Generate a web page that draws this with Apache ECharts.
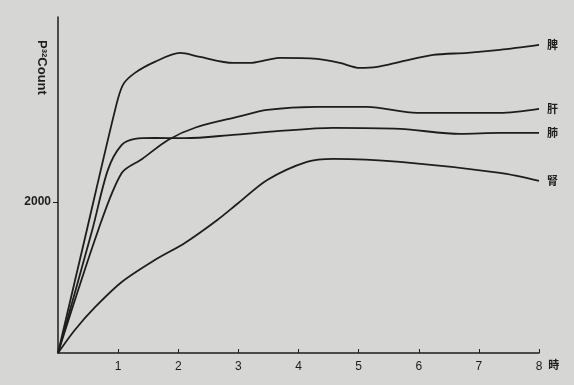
<!DOCTYPE html>
<html>
<head>
<meta charset="utf-8">
<script src="https://cdn.jsdelivr.net/npm/echarts@6/dist/echarts.min.js"></script>
<style>
  html, body { margin: 0; padding: 0; background: #d6d6d4; }
  #chart { width: 574px; height: 385px; }
</style>
</head>
<body>
<div id="chart"></div>
<script>
// hours (時) and P32 counts
const spleenT = [0, 0.48, 0.95, 1.08, 1.28, 1.61, 2.03, 2.36, 2.91, 3.19, 3.48, 3.69, 4.31, 4.69, 5.02, 5.31, 5.69, 6.24, 6.81, 7.35, 8.0];
const spleenV = [0, 1630, 3220, 3551, 3710, 3856, 3975, 3922, 3842, 3842, 3882, 3909, 3895, 3842, 3776, 3790, 3856, 3948, 3975, 4015, 4081];

const liverT = [0, 0.67, 1.06, 1.40, 1.83, 2.3, 3.0, 3.48, 4.31, 5.14, 5.97, 7.35, 8.0];
const liverV = [0, 1630, 2385, 2570, 2822, 2990, 3130, 3220, 3260, 3260, 3180, 3180, 3233];

const lungT = [0, 0.57, 0.83, 1.06, 1.28, 1.61, 2.11, 2.91, 3.6, 4.58, 5.69, 6.69, 7.35, 8.0];
const lungV = [0, 1630, 2425, 2756, 2836, 2849, 2845, 2889, 2935, 2981, 2968, 2902, 2915, 2915];

const kidneyT = [0, 0.28, 0.62, 1.06, 1.61, 2.11, 2.65, 3.0, 3.48, 4.14, 4.58, 5.69, 7.35, 8.0];
const kidneyV = [0, 305, 610, 941, 1232, 1458, 1762, 1987, 2292, 2531, 2570, 2531, 2385, 2280];

const organs = ["脾", "肝", "肺", "腎"];
const xTicks = [1, 2, 3, 4, 5, 6, 7, 8];
const yTicks = [2000];

const ink = "#1d1d1d";
const chart = echarts.init(document.getElementById("chart"));

const pairs = (ts, vs) => ts.map((t, i) => [t, vs[i]]);
const seriesData = [
  pairs(spleenT, spleenV),
  pairs(liverT, liverV),
  pairs(lungT, lungV),
  pairs(kidneyT, kidneyV),
];

chart.setOption({
  backgroundColor: "#d6d6d4",
  animation: false,
  grid: { left: 58, right: 35, top: 17, bottom: 32 },
  xAxis: {
    type: "value",
    min: 0,
    max: 8,
    interval: 1,
    name: "時",
    nameLocation: "end",
    nameGap: 5,
    nameTextStyle: {
      color: ink, fontSize: 11, fontWeight: "bold",
      fontFamily: "Noto Sans CJK JP",
      align: "left", verticalAlign: "top", padding: [6, 0, 0, 0],
    },
    axisLine: { lineStyle: { color: ink, width: 1.5 } },
    axisTick: { inside: true, length: 4, lineStyle: { color: ink } },
    splitLine: { show: false },
    axisLabel: {
      margin: 8,
      color: ink,
      fontSize: 12,
      fontFamily: "Liberation Sans",
      formatter: (v) => (xTicks.includes(v) ? String(v) : ""),
    },
  },
  yAxis: {
    type: "value",
    min: 0,
    max: 4450,
    interval: 2000,
    axisLine: { show: true, lineStyle: { color: ink, width: 1.5 } },
    axisTick: { show: true, length: 5, customValues: yTicks, lineStyle: { color: ink } },
    splitLine: { show: false },
    axisLabel: {
      customValues: yTicks,
      margin: 7,
      color: ink,
      fontSize: 12,
      fontWeight: "bold",
      fontFamily: "Liberation Sans",
      formatter: (v) => (yTicks.includes(v) ? String(v) : ""),
    },
  },
  graphic: [
    {
      type: "text",
      x: 42,
      y: 40,
      rotation: -Math.PI / 2,
      style: {
        text: "P³²Count",
        fill: ink,
        font: "bold 13px 'Liberation Sans'",
        align: "left",
        verticalAlign: "middle",
      },
    },
  ],
  series: seriesData.map((d, i) => ({
    name: organs[i],
    type: "line",
    data: d,
    smooth: 0.3,
    showSymbol: false,
    clip: false,
    lineStyle: { color: ink, width: 1.8 },
    endLabel: {
      show: true,
      formatter: "{a}",
      distance: 8,
      color: ink,
      fontSize: 11,
      fontWeight: "bold",
      fontFamily: "Noto Sans CJK JP",
    },
  })),
});
</script>
</body>
</html>
